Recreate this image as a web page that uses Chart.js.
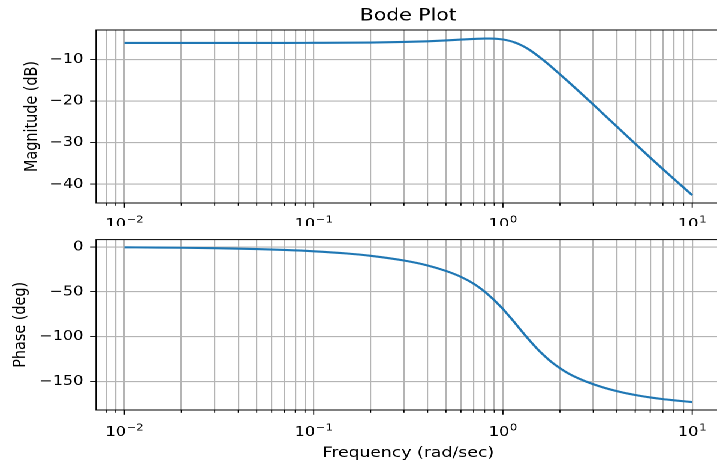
<!DOCTYPE html>
<html>
<head>
<meta charset="utf-8">
<script src="https://cdn.jsdelivr.net/npm/chart.js@4/dist/chart.umd.min.js"></script>
<style>
  html, body { margin: 0; padding: 0; background: #fff; overflow: hidden; width: 717px; height: 460px; }
  #wrap { position: absolute; left: 0; top: 0; width: 606px; height: 460px; transform: scaleX(1.199); transform-origin: 0 0; }
  canvas { position: absolute; left: 0; }
</style>
</head>
<body>
<div id="wrap">
  <canvas id="magChart" width="606" height="226" style="top:0"></canvas>
  <canvas id="phaseChart" width="606" height="234" style="top:226px"></canvas>
</div>
<script>
// Frequency response samples (rad/sec)
const frequency = [0.01, 0.015, 0.02, 0.03, 0.05, 0.07, 0.1, 0.15, 0.2, 0.3, 0.4, 0.5, 0.6, 0.7, 0.8, 0.85, 0.9, 0.95,
  1.0, 1.05, 1.1, 1.15, 1.2, 1.25, 1.3, 1.4, 1.5, 1.6, 1.7, 1.8, 2.0, 2.2, 2.5, 3, 4, 5, 6, 7, 8, 10];

// Magnitude (dB)
const magnitudeDb = [-6.02, -6.02, -6.02, -6.02, -6.01, -6.01, -5.99, -5.96, -5.91, -5.78, -5.61, -5.41, -5.21, -5.05,
  -4.95, -4.95, -4.98, -5.06, -5.19, -5.36, -5.59, -5.87, -6.20, -6.57, -6.97, -7.86, -8.83, -9.81, -10.78, -11.73,
  -13.55, -15.22, -17.51, -20.82, -26.11, -30.25, -33.59, -36.35, -38.71, -42.62];

// Phase (deg)
const phaseDeg = [-0.49, -0.73, -0.97, -1.46, -2.44, -3.42, -4.89, -7.38, -9.92, -15.2, -20.7, -26.8, -33.4, -41.0,
  -49.8, -54.6, -59.4, -64.4, -69.2, -74.3, -79.2, -84.0, -88.8, -93.3, -97.6, -105.5, -112.4, -118.4, -123.5, -128.0,
  -135.0, -140.5, -146.3, -152.9, -160.6, -164.9, -167.6, -169.5, -170.8, -172.8];

// Axis ticks: decade labels are drawn as base "10" plus a raised exponent
const freqTicks = [0.008, 0.009, 0.01, 0.02, 0.03, 0.04, 0.05, 0.06, 0.07, 0.08, 0.09,
  0.1, 0.2, 0.3, 0.4, 0.5, 0.6, 0.7, 0.8, 0.9, 1, 2, 3, 4, 5, 6, 7, 8, 9, 10];
const decadeExponents = { 0.01: '\u22122', 0.1: '\u22121', 1: '0', 10: '1' };
const magTicks = [-40, -30, -20, -10];
const phaseTicks = [-150, -100, -50, 0];

const FONT = "'DejaVu Sans', 'Liberation Sans', sans-serif";
const LINE_COLOR = '#1f77b4';
const GRID_COLOR = '#b4b4b4';
const AXIS_LEFT = 80.1;

function fmtMinus(v) { return v < 0 ? '\u2212' + Math.abs(v) : String(v); }

// Frame, x tick marks, decade labels and the text around each axes box
function makeDecor(opts) {
  return {
    id: 'decor_' + opts.name,
    afterDraw(chart) {
      const ctx = chart.ctx;
      const a = chart.chartArea;
      const xs = chart.scales.x;
      ctx.save();
      ctx.strokeStyle = '#000';
      ctx.lineWidth = 1;
      ctx.strokeRect(a.left, a.top, a.right - a.left, a.bottom - a.top);
      ctx.lineWidth = 0.9;
      for (const v of freqTicks) {
        const px = xs.getPixelForValue(v);
        const major = decadeExponents[v] !== undefined;
        ctx.beginPath();
        ctx.moveTo(px, a.bottom);
        ctx.lineTo(px, a.bottom + (major ? 4.8 : 2.8));
        ctx.stroke();
      }
      ctx.fillStyle = '#000';
      ctx.textBaseline = 'alphabetic';
      ctx.textAlign = 'left';
      const base = a.bottom + opts.tickLabelOffset;
      for (const v of freqTicks) {
        const exp = decadeExponents[v];
        if (exp === undefined) continue;
        const px = xs.getPixelForValue(v);
        ctx.font = '13.5px ' + FONT;
        const w1 = ctx.measureText('10').width;
        ctx.font = '9.6px ' + FONT;
        const w2 = ctx.measureText(exp).width;
        const x0 = px - (w1 + w2 + 0.5) / 2;
        ctx.font = '13.5px ' + FONT;
        ctx.fillText('10', x0, base);
        ctx.font = '9.6px ' + FONT;
        ctx.fillText(exp, x0 + w1 + 0.5, base - 5.3);
      }
      if (opts.title) {
        ctx.font = '17px ' + FONT;
        ctx.textAlign = 'center';
        ctx.fillText(opts.title, (a.left + a.right) / 2, opts.titleY);
      }
      if (opts.xLabel) {
        ctx.font = '14.4px ' + FONT;
        ctx.textAlign = 'center';
        ctx.fillText(opts.xLabel, (a.left + a.right) / 2, opts.xLabelY);
      }
      ctx.font = '14.4px ' + FONT;
      ctx.translate(opts.yLabelX, (a.top + a.bottom) / 2);
      ctx.rotate(-Math.PI / 2);
      ctx.textAlign = 'center';
      ctx.fillText(opts.yLabel, 0, 0);
      ctx.restore();
    }
  };
}

function makeChart(canvasId, values, yMin, yMax, yTicks, padTop, xHeight, decor) {
  return new Chart(document.getElementById(canvasId), {
    type: 'line',
    data: {
      datasets: [{
        data: frequency.map((f, i) => ({ x: f, y: values[i] })),
        borderColor: LINE_COLOR,
        borderWidth: 2.1,
        pointRadius: 0,
        fill: false,
        cubicInterpolationMode: 'monotone'
      }]
    },
    options: {
      responsive: false,
      animation: false,
      devicePixelRatio: 2,
      layout: { padding: { top: padTop, right: 5, left: 0, bottom: 0 } },
      plugins: { legend: { display: false }, title: { display: false }, tooltip: { enabled: false } },
      scales: {
        x: {
          type: 'logarithmic',
          min: 0.007079,
          max: 14.125,
          afterBuildTicks: (s) => { s.ticks = freqTicks.map(v => ({ value: v, major: decadeExponents[v] !== undefined })); },
          afterFit: (s) => { s.height = xHeight; },
          border: { display: false },
          grid: { color: GRID_COLOR, lineWidth: 1.1, drawTicks: false },
          ticks: { display: false, autoSkip: false, maxRotation: 0, minRotation: 0 }
        },
        y: {
          type: 'linear',
          min: yMin,
          max: yMax,
          afterBuildTicks: (s) => { s.ticks = yTicks.map(v => ({ value: v })); },
          afterFit: (s) => { s.width = AXIS_LEFT; },
          border: { display: false },
          grid: { color: GRID_COLOR, lineWidth: 1.1, drawTicks: true, tickLength: 5, tickColor: '#000', tickWidth: 0.9 },
          ticks: {
            padding: 5.5,
            color: '#000',
            font: { family: FONT, size: 13.5 },
            callback: (v) => fmtMinus(v)
          }
        }
      }
    },
    plugins: [decor]
  });
}

makeChart('magChart', magnitudeDb, -44.5, -2.9, magTicks, 30, 23,
  makeDecor({ name: 'mag', title: 'Bode Plot', titleY: 20.7, yLabel: 'Magnitude (dB)', yLabelX: 30.6, tickLabelOffset: 25 }));

makeChart('phaseChart', phaseDeg, -181.6, 8.1, phaseTicks, 11.3, 50,
  makeDecor({ name: 'phase', xLabel: 'Frequency (rad/sec)', xLabelY: 231, yLabel: 'Phase (deg)', yLabelX: 20.9, tickLabelOffset: 26 }));
</script>
</body>
</html>
